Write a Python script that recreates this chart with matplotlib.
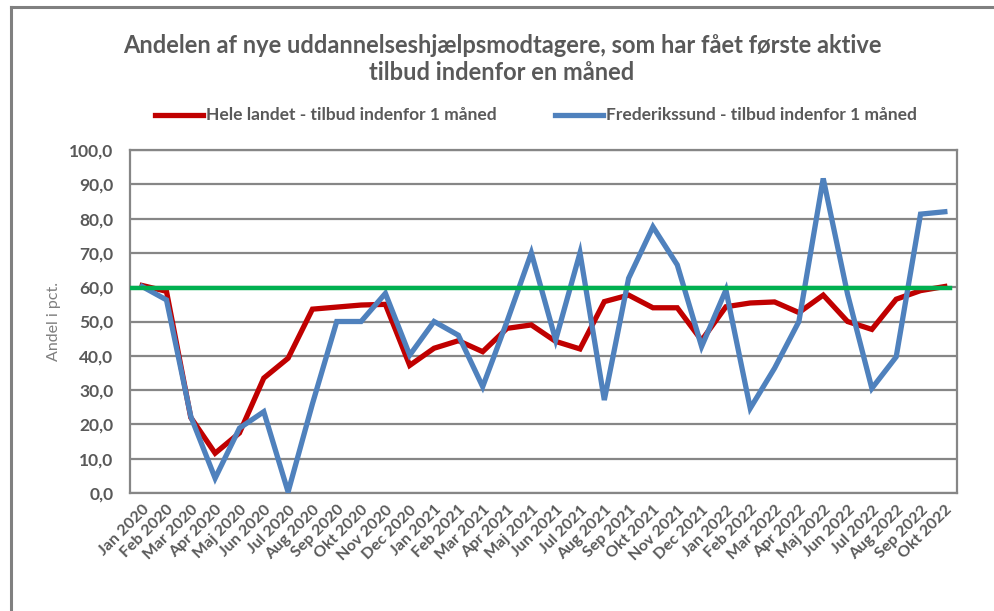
import matplotlib
matplotlib.use("Agg")
import matplotlib.pyplot as plt
from matplotlib.lines import Line2D

months = ["Jan 2020", "Feb 2020", "Mar 2020", "Apr 2020", "Maj 2020", "Jun 2020",
          "Jul 2020", "Aug 2020", "Sep 2020", "Okt 2020", "Nov 2020", "Dec 2020",
          "Jan 2021", "Feb 2021", "Mar 2021", "Apr 2021", "Maj 2021", "Jun 2021",
          "Jul 2021", "Aug 2021", "Sep 2021", "Okt 2021", "Nov 2021", "Dec 2021",
          "Jan 2022", "Feb 2022", "Mar 2022", "Apr 2022", "Maj 2022", "Jun 2022",
          "Jul 2022", "Aug 2022", "Sep 2022", "Okt 2022"]

hele_landet = [60.5, 58.8, 22.0, 11.6, 17.5, 33.5, 39.3, 53.6, 54.2, 54.8, 55.0, 37.2,
               42.2, 44.4, 41.2, 48.0, 49.0, 44.2, 42.0, 55.8, 57.7, 54.0, 54.0, 44.5,
               54.3, 55.4, 55.7, 52.6, 57.7, 50.0, 47.7, 56.5, 59.0, 60.2]

frederikssund = [60.2, 56.3, 22.3, 4.3, 18.9, 23.7, 0.3, 26.0, 50.0, 50.0, 58.2, 40.2,
                 50.0, 46.0, 31.0, 50.0, 70.0, 44.6, 70.0, 27.1, 62.6, 77.6, 66.5, 42.7,
                 59.2, 24.7, 36.4, 50.0, 91.7, 58.0, 30.5, 39.7, 81.3, 82.0]

target = 59.7

yticks = [0, 10, 20, 30, 40, 50, 60, 70, 80, 90, 100]

title = "Andelen af nye uddannelseshjælpsmodtagere, som har fået første aktive\ntilbud indenfor en måned"
label_red = "Hele landet - tilbud indenfor 1 måned"
label_blue = "Frederikssund - tilbud indenfor 1 måned"
ylabel = "Andel i pct."

FONT = ["Lato", "DejaVu Sans"]
plt.rcParams["font.family"] = FONT

TXT = "#595959"
GRID = "#868686"
RED = "#C00000"
BLUE = "#4F81BD"
GREEN = "#00B050"

W, H = 994, 611
fig = plt.figure(figsize=(W / 100, H / 100), dpi=100)
fig.patch.set_facecolor("white")

# outer chart border (top and left visible)
fig.add_artist(Line2D([11 / W, 11 / W], [0, 1 - 7 / H], color="#808080", lw=2.2,
                      transform=fig.transFigure))
fig.add_artist(Line2D([11 / W, 1], [1 - 7 / H, 1 - 7 / H], color="#808080", lw=2.2,
                      transform=fig.transFigure))

left, right, top, bottom = 130, 957, 150, 493
ax = fig.add_axes([left / W, 1 - bottom / H, (right - left) / W, (bottom - top) / H])

x = list(range(len(months)))
ax.set_xlim(-0.5, len(months) - 0.5)
ax.set_ylim(0, 100)

for yv in yticks:
    ax.axhline(yv, color=GRID, lw=1.6, zorder=1)

ax.plot(x, hele_landet, color=RED, lw=3.8, solid_joinstyle="miter", zorder=3)
ax.plot(x, frederikssund, color=BLUE, lw=3.8, solid_joinstyle="miter", zorder=4)
ax.plot([-0.5, len(months) - 0.8], [target, target], color=GREEN, lw=3.2, zorder=5)

for s in ax.spines.values():
    s.set_color(GRID)
    s.set_linewidth(1.6)

ax.set_yticks(yticks)
ax.set_yticklabels([f"{v:.1f}".replace(".", ",") for v in yticks],
                   fontsize=12.5, fontweight="bold", color=TXT)
ax.set_xticks(x)
ax.set_xticklabels(months, rotation=45, ha="right", va="top", rotation_mode="anchor",
                   fontsize=11.5, fontweight="bold", color=TXT)
ax.tick_params(axis="both", length=0)
ax.tick_params(axis="y", pad=12)
ax.tick_params(axis="x", pad=7)

ax.set_ylabel(ylabel, fontsize=11.5, color="#7f7f7f", labelpad=6)

fig.text(502 / W, 1 - 59 / H, title, ha="center", va="center", fontsize=17,
         fontweight="bold", color=TXT, linespacing=1.25)

# legend
ly = 1 - 115 / H
fig.add_artist(Line2D([155 / W, 203 / W], [ly, ly], color=RED, lw=3.8,
                      transform=fig.transFigure))
fig.text(206 / W, ly, label_red, ha="left", va="center", fontsize=12.5,
         fontweight="bold", color=TXT)
fig.add_artist(Line2D([555 / W, 603 / W], [ly, ly], color=BLUE, lw=3.8,
                      transform=fig.transFigure))
fig.text(606 / W, ly, label_blue, ha="left", va="center", fontsize=12.5,
         fontweight="bold", color=TXT)

fig.savefig("out.png", dpi=100, facecolor="white")
